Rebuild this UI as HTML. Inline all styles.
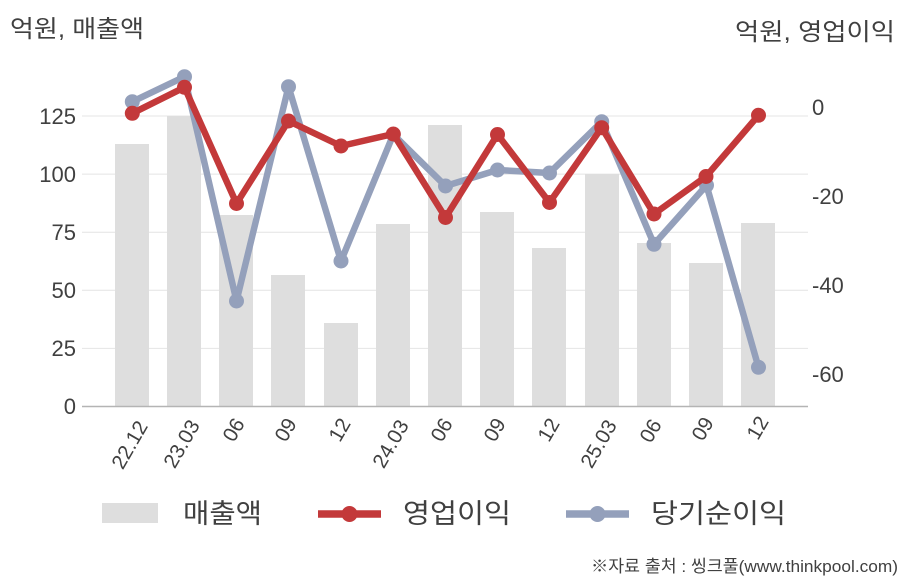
<!DOCTYPE html>
<html>
<head>
<meta charset="utf-8">
<style>
  html, body { margin:0; padding:0; background:#ffffff; }
  svg { display:block; }
  text { font-family: "Liberation Sans", "Noto Sans CJK KR", sans-serif; fill:#404040; }
</style>
</head>
<body>
<svg width="908" height="580" viewBox="0 0 908 580" xmlns="http://www.w3.org/2000/svg">
  <!-- titles -->
  <text x="10" y="37" font-size="24" textLength="134" lengthAdjust="spacingAndGlyphs">억원, 매출액</text>
  <text x="895" y="40" font-size="24" text-anchor="end" textLength="160" lengthAdjust="spacingAndGlyphs">억원, 영업이익</text>

  <!-- gridlines -->
  <g stroke="#e4e4e4" stroke-width="1">
    <line x1="82" y1="116" x2="808" y2="116"/>
    <line x1="82" y1="174.1" x2="808" y2="174.1"/>
    <line x1="82" y1="232.2" x2="808" y2="232.2"/>
    <line x1="82" y1="290.3" x2="808" y2="290.3"/>
    <line x1="82" y1="348.4" x2="808" y2="348.4"/>
  </g>

  <!-- bars -->
  <g fill="#dedede">
    <rect x="115" y="144" width="34" height="262.5"/>
    <rect x="167" y="116" width="34" height="290.5"/>
    <rect x="219" y="215" width="34" height="191.5"/>
    <rect x="271" y="275" width="34" height="131.5"/>
    <rect x="324" y="323" width="34" height="83.5"/>
    <rect x="376" y="224" width="34" height="182.5"/>
    <rect x="428" y="125" width="34" height="281.5"/>
    <rect x="480" y="212" width="34" height="194.5"/>
    <rect x="532" y="248" width="34" height="158.5"/>
    <rect x="585" y="174" width="34" height="232.5"/>
    <rect x="637" y="243" width="34" height="163.5"/>
    <rect x="689" y="263" width="34" height="143.5"/>
    <rect x="741" y="223" width="34" height="183.5"/>
  </g>

  <!-- axis line -->
  <line x1="82" y1="406.5" x2="808" y2="406.5" stroke="#b4b4b4" stroke-width="1.5"/>

  <!-- left ticks -->
  <g font-size="22" text-anchor="end">
    <text x="76" y="124">125</text>
    <text x="76" y="182">100</text>
    <text x="76" y="240">75</text>
    <text x="76" y="298">50</text>
    <text x="76" y="356">25</text>
    <text x="76" y="414">0</text>
  </g>
  <!-- right ticks -->
  <g font-size="22">
    <text x="812" y="115">0</text>
    <text x="812" y="204">-20</text>
    <text x="812" y="293">-40</text>
    <text x="812" y="382">-60</text>
  </g>

  <!-- x labels -->
  <g font-size="20.5" text-anchor="middle" dominant-baseline="central">
    <text transform="translate(130,445) rotate(-60)">22.12</text>
    <text transform="translate(182,444) rotate(-60)">23.03</text>
    <text transform="translate(234,430) rotate(-60)">06</text>
    <text transform="translate(286,430) rotate(-60)">09</text>
    <text transform="translate(340,430) rotate(-60)">12</text>
    <text transform="translate(391,444) rotate(-60)">24.03</text>
    <text transform="translate(442,430) rotate(-60)">06</text>
    <text transform="translate(495,430) rotate(-60)">09</text>
    <text transform="translate(549,430) rotate(-60)">12</text>
    <text transform="translate(599,444) rotate(-60)">25.03</text>
    <text transform="translate(651,431) rotate(-60)">06</text>
    <text transform="translate(703,429) rotate(-60)">09</text>
    <text transform="translate(758,428) rotate(-60)">12</text>
  </g>

  <!-- 당기순이익 (gray-blue) -->
  <g>
    <polyline fill="none" stroke="#94a0bb" stroke-width="6.5" stroke-linejoin="round"
      points="132.3,101.7 184.5,76.7 236.5,301 288.5,86.7 341,261 393.3,134.5 445.5,186 497.5,170 549.5,173 601.7,121.7 654,244.3 706.5,185.3 758.5,367.3"/>
    <g fill="#94a0bb">
      <circle cx="132.3" cy="101.7" r="7.5"/>
      <circle cx="184.5" cy="76.7" r="7.5"/>
      <circle cx="236.5" cy="301" r="7.5"/>
      <circle cx="288.5" cy="86.7" r="7.5"/>
      <circle cx="341" cy="261" r="7.5"/>
      <circle cx="393.3" cy="134.5" r="7.5"/>
      <circle cx="445.5" cy="186" r="7.5"/>
      <circle cx="497.5" cy="170" r="7.5"/>
      <circle cx="549.5" cy="173" r="7.5"/>
      <circle cx="601.7" cy="121.7" r="7.5"/>
      <circle cx="654" cy="244.3" r="7.5"/>
      <circle cx="706.5" cy="185.3" r="7.5"/>
      <circle cx="758.5" cy="367.3" r="7.5"/>
    </g>
  </g>

  <!-- 영업이익 (red) -->
  <g>
    <polyline fill="none" stroke="#c3393a" stroke-width="6.5" stroke-linejoin="round"
      points="132.3,113.3 184.5,87.3 236.5,203.5 288.5,121 341,146 393.3,134 445.5,217.5 497.5,134.5 549.5,202.5 601.7,127.7 654,214 706,176.5 758.5,115.3"/>
    <g fill="#c3393a">
      <circle cx="132.3" cy="113.3" r="7.5"/>
      <circle cx="184.5" cy="87.3" r="7.5"/>
      <circle cx="236.5" cy="203.5" r="7.5"/>
      <circle cx="288.5" cy="121" r="7.5"/>
      <circle cx="341" cy="146" r="7.5"/>
      <circle cx="393.3" cy="134" r="7.5"/>
      <circle cx="445.5" cy="217.5" r="7.5"/>
      <circle cx="497.5" cy="134.5" r="7.5"/>
      <circle cx="549.5" cy="202.5" r="7.5"/>
      <circle cx="601.7" cy="127.7" r="7.5"/>
      <circle cx="654" cy="214" r="7.5"/>
      <circle cx="706" cy="176.5" r="7.5"/>
      <circle cx="758.5" cy="115.3" r="7.5"/>
    </g>
  </g>

  <!-- legend -->
  <rect x="102" y="503" width="56" height="20" fill="#dedede"/>
  <text x="183" y="523" font-size="27" textLength="79" lengthAdjust="spacingAndGlyphs">매출액</text>

  <line x1="318" y1="514" x2="381" y2="514" stroke="#c3393a" stroke-width="7.5"/>
  <circle cx="349.5" cy="514" r="8" fill="#c3393a"/>
  <text x="403" y="523" font-size="27" textLength="108" lengthAdjust="spacingAndGlyphs">영업이익</text>

  <line x1="566" y1="514" x2="629" y2="514" stroke="#94a0bb" stroke-width="7.5"/>
  <circle cx="597.5" cy="514" r="8" fill="#94a0bb"/>
  <text x="651" y="523" font-size="27" textLength="135" lengthAdjust="spacingAndGlyphs">당기순이익</text>

  <!-- footer -->
  <text x="898" y="572" font-size="17" text-anchor="end" textLength="307" lengthAdjust="spacingAndGlyphs">※자료 출처 : 씽크풀(www.thinkpool.com)</text>
</svg>
</body>
</html>
